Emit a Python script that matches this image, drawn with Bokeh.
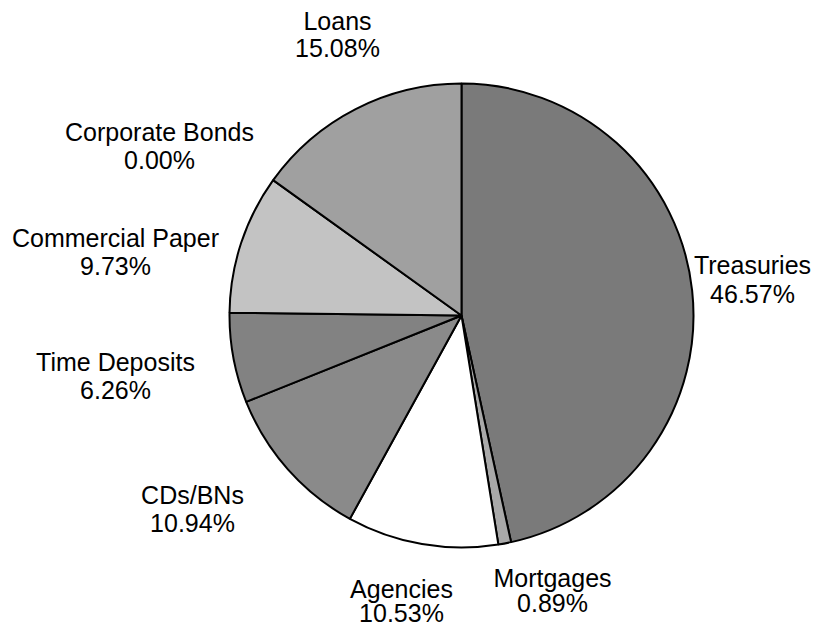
import math
from bokeh.plotting import figure
from bokeh.models import Range1d, ColumnDataSource
from bokeh.core.properties import value
from bokeh.embed import file_html
from bokeh.resources import INLINE

# Data (clockwise from 12 o'clock)
categories = ["Treasuries", "Mortgages", "Agencies", "CDs/BNs", "Time Deposits",
              "Commercial Paper", "Corporate Bonds", "Loans"]
shares = [46.57, 0.89, 10.53, 10.94, 6.26, 9.73, 0.00, 15.08]

# Styles / layout
colors = ["#7a7a7a", "#a9a9a9", "#ffffff", "#8a8a8a", "#828282",
          "#c3c3c3", "#b0b0b0", "#a0a0a0"]
label_x = [752, 552, 401, 192, 115, 115, 159, 337]
label_y = [264, 577, 588, 494, 361, 237, 131, 20]
pct_y = [293, 602, 612, 522, 389, 265, 159, 47]

W, H = 813, 625
cx, cy_img, R = 461, 315, 232

p = figure(width=W, height=H, output_backend="svg", toolbar_location=None,
           x_range=Range1d(0, W), y_range=Range1d(0, H), min_border=0)
p.axis.visible = False
p.grid.visible = False
p.outline_line_color = None
p.background_fill_color = "white"
p.border_fill_color = "white"

total = sum(shares)
xs, ys, starts, ends, cols = [], [], [], [], []
cum = 0.0
for s, c in zip(shares, colors):
    a0 = math.pi / 2 - 2 * math.pi * cum / total
    cum += s
    a1 = math.pi / 2 - 2 * math.pi * cum / total
    if s > 0:
        xs.append(cx)
        ys.append(H - cy_img)
        starts.append(a0)
        ends.append(a1)
        cols.append(c)

src = ColumnDataSource(dict(x=xs, y=ys, start=starts, end=ends, color=cols))
p.wedge(x="x", y="y", radius=R, start_angle="start", end_angle="end",
        direction="clock", fill_color="color", line_color="black", line_width=2,
        source=src)

names_src = ColumnDataSource(dict(x=label_x, y=[H - y for y in label_y], t=categories))
pct_src = ColumnDataSource(dict(x=label_x, y=[H - y for y in pct_y],
                                t=[f"{v:.2f}%" for v in shares]))
for s in (names_src, pct_src):
    p.text(x="x", y="y", text="t", source=s, text_font=value("Liberation Sans"),
           text_font_size="25px", text_align="center", text_baseline="middle",
           text_color="black")

open("out.html", "w").write(file_html(p, INLINE))
